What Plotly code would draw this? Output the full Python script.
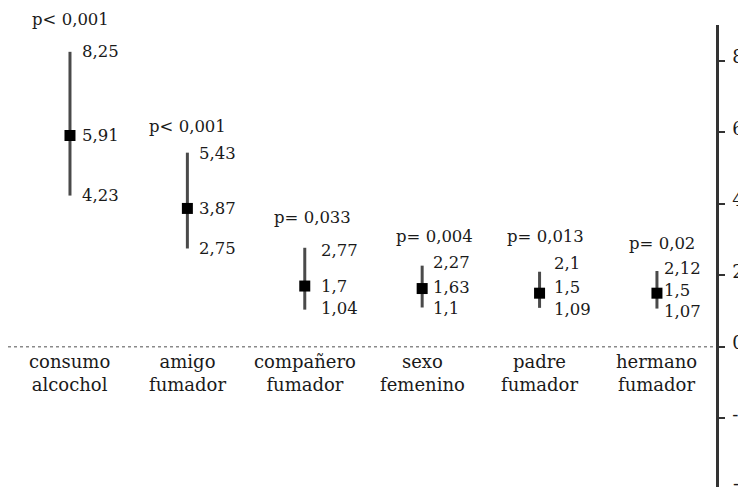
import plotly.graph_objects as go

categories = ["consumo<br>alcochol", "amigo<br>fumador", "compañero<br>fumador",
              "sexo<br>femenino", "padre<br>fumador", "hermano<br>fumador"]
estimate = [5.91, 3.87, 1.7, 1.63, 1.5, 1.5]
lower = [4.23, 2.75, 1.04, 1.1, 1.09, 1.07]
upper = [8.25, 5.43, 2.77, 2.27, 2.1, 2.12]
p_labels = ["p< 0,001", "p< 0,001", "p= 0,033", "p= 0,004", "p= 0,013", "p= 0,02"]
y_ticks = [-2, 0, 2, 4, 6, 8]

# styling offsets (pixels)
value_xshift = [10, 10, 14, 9, 12, 5]
up_yshift = [0, -1, -3, 3, 8, 3]
mid_yshift = [0, 0, 0, 1, 6, 3]
low_yshift = [0, 0, 1, -1, -2, -3]
p_xshift = [1, 0, 8, 12, 6, 5]
p_yshift = [32, 26, 30, 29, 35, 28]

FONT = "DejaVu Serif"
TXT = "#1a1a1a"

xs = list(range(len(categories)))

def fmt(v):
    return str(v).replace(".", ",")

fig = go.Figure()
fig.add_trace(go.Scatter(
    x=xs, y=estimate, mode="markers",
    marker=dict(symbol="square", size=11, color="#000000"),
    error_y=dict(type="data", symmetric=False,
                 array=[u - e for u, e in zip(upper, estimate)],
                 arrayminus=[e - l for e, l in zip(estimate, lower)],
                 thickness=3, width=0, color="#4a4a4a"),
    showlegend=False, hoverinfo="skip",
))

ann = []
for i in xs:
    for v, ys in ((upper[i], up_yshift[i]), (estimate[i], mid_yshift[i]),
                  (lower[i], low_yshift[i])):
        ann.append(dict(x=i, y=v, text=fmt(v), showarrow=False, xanchor="left",
                        yanchor="middle", xshift=value_xshift[i], yshift=ys,
                        font=dict(family=FONT, size=16.5, color=TXT)))
    ann.append(dict(x=i, y=upper[i], text=p_labels[i], showarrow=False,
                    xanchor="center", yanchor="middle", xshift=p_xshift[i],
                    yshift=p_yshift[i], font=dict(family=FONT, size=16.5, color=TXT)))
    ann.append(dict(x=i, y=0, text=categories[i], showarrow=False,
                    xanchor="center", yanchor="top", yshift=-2,
                    font=dict(family=FONT, size=18, color=TXT)))

yr = [-3.92, 9.0]
ann.append(dict(x=1, xref="paper", y=(-4 - yr[0]) / (yr[1] - yr[0]), yref="paper",
                text="-4", showarrow=False, xanchor="left", yanchor="middle",
                xshift=15, yshift=6, font=dict(family=FONT, size=18, color=TXT)))

# page body has an 8px default margin: compensate so the plot lands at the same place
fig.update_layout(
    width=738, height=479,
    margin=dict(l=0, r=30, t=17, b=0, autoexpand=False),
    paper_bgcolor="white", plot_bgcolor="white",
    annotations=ann,
    shapes=[dict(type="line", xref="paper", x0=0, x1=1, yref="y", y0=0, y1=0,
                 line=dict(color="#8a8a8a", width=1.5, dash="dot"), layer="below")],
    xaxis=dict(range=[-0.528, 5.503], showticklabels=False, showgrid=False,
               zeroline=False, showline=False, ticks="", automargin=False),
    yaxis=dict(range=yr, side="right", showgrid=False, zeroline=False,
               showline=True, linecolor="#333333", linewidth=2.5, automargin=False,
               ticks="outside", ticklen=6, tickwidth=1.5, tickcolor="#333333",
               tickvals=y_ticks, ticktext=[str(t) for t in y_ticks],
               ticklabelstandoff=4, ticklabelshift=-4,
               tickfont=dict(family=FONT, size=18, color=TXT)),
)

fig.write_html("out.html")
